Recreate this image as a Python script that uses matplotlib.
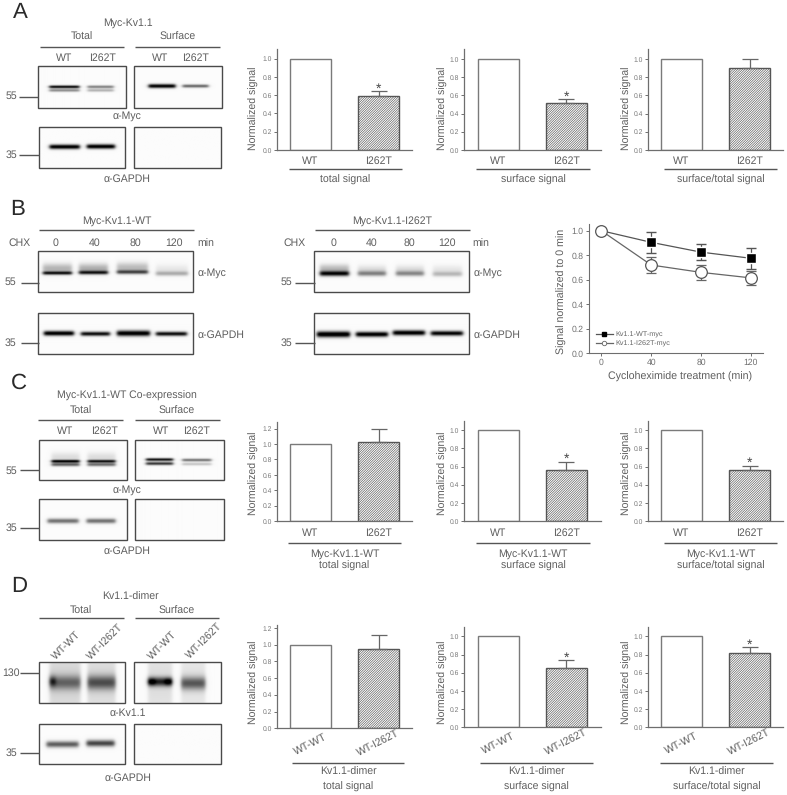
import numpy as np
import matplotlib
matplotlib.use("Agg")
import matplotlib.pyplot as plt
from matplotlib.lines import Line2D
from matplotlib.patches import Rectangle

plt.rcParams['font.family'] = ['Liberation Sans', 'DejaVu Sans']
plt.rcParams['hatch.linewidth'] = 0.45
plt.rcParams['text.hinting'] = 'none'

W, H = 787, 795
TXT = '#5e5e5e'
AXC = '#6e6e6e'

# ---- bar chart data
cats_wt = ['WT', 'I262T']
cats_dimer = ['WT-WT', 'WT-I262T']
a_total = [1.0, 0.59];  a_total_err = 0.055
a_surface = [1.0, 0.52];  a_surface_err = 0.04
a_ratio = [1.0, 0.90];  a_ratio_err = 0.105
c_total = [1.0, 1.03];  c_total_err = 0.165
c_surface = [1.0, 0.56];  c_surface_err = 0.09
c_ratio = [1.0, 0.56];  c_ratio_err = 0.05
d_total = [1.0, 0.95];  d_total_err = 0.165
d_surface = [1.0, 0.655];  d_surface_err = 0.08
d_ratio = [1.0, 0.82];  d_ratio_err = 0.06

# ---- cycloheximide time course
cx_time = [0, 40, 80, 120]
cx_wt = [1.0, 0.905, 0.825, 0.775]
cx_wt_err = [0.02, 0.085, 0.065, 0.085]
cx_mut = [1.0, 0.72, 0.66, 0.615]
cx_mut_err = [0.03, 0.065, 0.06, 0.06]

# ---- blots: (box), then bands (x0, x1, y, sigma_y, strength)
blots = [
    # A
    ((38, 125.5, 65.7, 108.3), [(49, 79, 87.3, 1.0, 1.0), (49, 79, 90.8, 1.0, 0.45),
                                (87, 113, 87.3, 1.0, 0.5), (87, 113, 90.8, 1.0, 0.3)]),
    ((133.7, 221.7, 65.7, 108.3), [(148, 175, 86.5, 1.4, 1.05), (182, 208, 86.5, 1.1, 0.6)]),
    ((38.7, 125, 127, 168.3), [(49, 79, 147.3, 1.6, 1.05), (86, 114, 147, 1.6, 1.05)]),
    ((134.3, 220.7, 127, 168.3), []),
    # B
    ((38.3, 193.3, 250.7, 291.7), [(43, 72, 272.5, 1.2, 0.85), (43, 72, 268, 3.5, 0.28),
                                   (79, 108, 272, 1.3, 0.8), (79, 108, 268, 3.5, 0.3),
                                   (117, 148, 271.5, 1.4, 0.65), (117, 148, 267, 3.5, 0.25),
                                   (156, 188, 273, 1.6, 0.28), (156, 188, 269, 3.5, 0.08)]),
    ((38.3, 193.3, 312.7, 354), [(44, 74, 333.5, 1.7, 1.05), (81, 110, 334, 1.5, 0.95),
                                 (117, 150, 333.5, 2.0, 1.05), (156, 187, 334, 1.5, 0.95)]),
    ((314.3, 469, 250.7, 291.7), [(320, 349, 273, 1.8, 0.95), (320, 349, 268, 3.0, 0.25),
                                  (358, 386, 273, 1.8, 0.45), (358, 386, 269, 3.0, 0.12),
                                  (396, 424, 273, 1.8, 0.42), (396, 424, 269, 3.0, 0.12),
                                  (433, 462, 273.5, 1.8, 0.25), (433, 462, 269, 3.0, 0.08)]),
    ((314.3, 469, 312.7, 354), [(317, 350, 334.5, 2.1, 1.1), (356, 388, 334.5, 1.8, 1.05),
                                (393, 425, 333, 1.8, 1.05), (431, 463, 333.5, 1.7, 1.0)]),
    # C
    ((38.7, 126.7, 439.7, 480.3), [(51, 79, 461.7, 1.0, 1.0), (51, 79, 465, 1.2, 0.6),
                                   (51, 79, 458, 3.5, 0.12),
                                   (87, 115, 461.7, 1.0, 0.9), (87, 115, 465, 1.2, 0.55),
                                   (87, 115, 458, 3.5, 0.12)]),
    ((135.3, 223.7, 439.7, 480.3), [(146, 173, 460, 1.0, 0.95), (146, 173, 464, 1.1, 0.8),
                                    (182, 211, 460.5, 1.0, 0.55), (182, 211, 464.5, 1.0, 0.22)]),
    ((38.7, 126.7, 499.3, 540), [(47, 78, 521, 1.7, 0.55), (86, 115, 521, 1.7, 0.55)]),
    ((135.3, 223.7, 499.3, 540), []),
    # D
    ((38.7, 124.7, 662, 703), [(49, 80, 682.3, 5.0, 0.45), (49, 80, 682, 30, 0.16), (49, 55, 681, 3.5, 0.35),
                               (87, 115, 682.3, 5.0, 0.55), (87, 115, 682, 30, 0.14)]),
    ((134.3, 220.7, 662, 703), [(148, 172, 681.5, 3.2, 0.75), (148, 155, 681.5, 2.5, 0.3),
                                (165, 172, 681.5, 2.5, 0.3), (148, 172, 682, 30, 0.12),
                                (181, 205, 683, 4.5, 0.55), (181, 205, 682, 30, 0.1)]),
    ((38.7, 124.7, 723.7, 764), [(46, 78, 744.5, 2.2, 0.62), (86, 114, 743.5, 2.3, 0.72)]),
    ((134.3, 220.7, 723.7, 764), []),
]

fig = plt.figure(figsize=(W / 100, H / 100), dpi=100)
ov = fig.add_axes([0, 0, 1, 1])
ov.axis('off')


def draw_blot(box, bands):
    l, r, t, b = box
    xs = np.arange(l, r, 0.5)
    ys = np.arange(t, b, 0.5)
    X, Y = np.meshgrid(xs, ys)
    dens = np.zeros_like(X)
    for x0, x1, yc, sy, amp in bands:
        fx = 0.5 * (np.tanh((X - x0) / 2.0) - np.tanh((X - x1) / 2.0))
        dens += amp * fx * np.exp(-(Y - yc) ** 2 / (2 * sy ** 2))
    img = np.clip(0.985 - dens, 0, 1)
    ov.imshow(img, cmap='gray', vmin=0, vmax=1, extent=(l, r, b, t), origin='upper',
              aspect='auto', interpolation='bilinear')
    ov.add_patch(Rectangle((l, t), r - l, b - t, fill=False, ec='#4a4a4a', lw=1.0))


for box, bands in blots:
    draw_blot(box, bands)


def T(x, y, s, fs=7.6, ha='center', rot=0, col=TXT):
    ov.text(x, y, s, fontsize=fs, ha=ha, va='center', rotation=rot, color=col,
            rotation_mode='anchor' if rot else 'default')


def L(x0, x1, y, col='#555555', lw=1.0):
    ov.plot([x0, x1], [y, y], color=col, lw=lw, solid_capstyle='butt')


def bar_chart(box, vals, err, cats, ticks, star, label_y, rot=0, bars_px=(310.5, 378.5)):
    l, r, t, b, y1px = box
    ax = fig.add_axes([l / W, 1 - b / H, (r - l) / W, (b - t) / H], facecolor='none')
    sp = bars_px[1] - bars_px[0]
    pos = [0, 1]
    ax.bar(pos[0], vals[0], 0.6, color='white', edgecolor='#7a7a7a', lw=1.0)
    ax.bar(pos[1], vals[1], 0.6, color='white', edgecolor='#555555', lw=1.0,
           hatch='/' * 14)
    ax.errorbar(pos[1], vals[1], yerr=[[0], [err]], color='#666666', lw=0.9, capsize=5.6,
                capthick=0.9, fmt='none', zorder=1)
    ax.set_xlim((l - bars_px[0]) / sp, (r - bars_px[0]) / sp)
    ax.set_ylim(0, (b - t) / (b - y1px))
    ax.set_yticks(ticks)
    ax.set_yticklabels([f'{v:.1f}' for v in ticks], fontsize=4.9, color='#777777')
    ax.set_xticks(pos)
    if rot:
        ax.set_xticklabels(cats, fontsize=7.6, color=TXT, rotation=rot, ha='center', va='bottom')
        ax.tick_params(axis='x', length=0, pad=21)
    else:
        ax.set_xticklabels(cats, fontsize=7.6, color=TXT)
        ax.tick_params(axis='x', length=0, pad=4.5)
    ax.tick_params(axis='y', length=2, width=0.7, color=AXC, pad=1.5)
    ax.spines[['top', 'right']].set_visible(False)
    ax.spines[['left', 'bottom']].set_color(AXC)
    ax.spines[['left', 'bottom']].set_linewidth(0.9)
    ax.set_ylabel('Normalized signal', fontsize=7.6, color=TXT,
                  labelpad=2.5 if l == 277 else 1.0, y=(b - label_y) / (b - t))
    if star:
        ax.annotate('*', (pos[1], vals[1] + err), xytext=(0, -3), textcoords='offset points',
                    ha='center', va='bottom', fontsize=10, color='#444444')
    return ax


t6 = [0, .2, .4, .6, .8, 1.0]
t7 = [0, .2, .4, .6, .8, 1.0, 1.2]
# Panel A
bar_chart((277, 412, 49.3, 150, 58.7), a_total, a_total_err, cats_wt, t6, True, 108.5)
bar_chart((464, 601, 49.3, 150, 59), a_surface, a_surface_err, cats_wt, t6, True, 108.5, bars_px=(498.5, 566.5))
bar_chart((648, 783, 49.3, 150, 59), a_ratio, a_ratio_err, cats_wt, t6, False, 108.5, bars_px=(681.5, 749.5))
# Panel C
bar_chart((277, 412, 421.7, 521.3, 444), c_total, c_total_err, cats_wt, t7, False, 473)
bar_chart((464, 601, 421, 521.3, 430), c_surface, c_surface_err, cats_wt, t6, True, 473, bars_px=(498.5, 566.5))
bar_chart((648, 783, 421, 521.3, 430), c_ratio, c_ratio_err, cats_wt, t6, True, 473, bars_px=(681.5, 749.5))
# Panel D
bar_chart((277, 412, 625, 728.3, 644.7), d_total, d_total_err, cats_dimer, t7, False, 682, rot=27)
bar_chart((464, 601, 627.3, 727.3, 636.3), d_surface, d_surface_err, cats_dimer, t6, True, 682, rot=27, bars_px=(498.5, 566.5))
bar_chart((648, 783, 627.3, 727.3, 636.3), d_ratio, d_ratio_err, cats_dimer, t6, True, 682, rot=27, bars_px=(681.5, 749.5))

# ---- time course
l, r, t, b = 589, 763, 224, 353.3
ax = fig.add_axes([l / W, 1 - b / H, (r - l) / W, (b - t) / H], facecolor='none')
ax.errorbar(cx_time, cx_wt, yerr=cx_wt_err, color='#555555', lw=0.9, capsize=3.6, capthick=0.9,
            marker='s', ms=7.6, mfc='black', mec='white', mew=1.0)
ax.errorbar(cx_time, cx_mut, yerr=cx_mut_err, color='#666666', lw=0.9, capsize=3.6, capthick=0.9,
            marker='o', ms=8.4, mfc='white', mec='#555555', mew=0.9)
ax.set_xlim(-9.9, 129.6)
ax.set_ylim(0, (b - t) / (b - 230.7))
ax.set_xticks(cx_time)
ax.set_yticks(t6)
ax.set_yticklabels([f'{v:.1f}' for v in t6])
ax.tick_params(labelsize=6.2, labelcolor='#707070', length=2.5, width=0.7, color=AXC, pad=1.5)
ax.spines[['top', 'right']].set_visible(False)
ax.spines[['left', 'bottom']].set_color(AXC)
ax.set_xlabel('Cycloheximide treatment (min)', fontsize=7.7, color=TXT, labelpad=3.5, x=0.523)
ax.set_ylabel('Signal normalized to 0 min', fontsize=7.7, color=TXT, labelpad=3, y=0.476)
handles = [Line2D([], [], color='#555555', lw=0.9, marker='s', ms=2.6, mfc='black', mec='black'),
           Line2D([], [], color='#666666', lw=0.9, marker='o', ms=3.2, mfc='white', mec='#666666', mew=0.6)]
ax.legend(handles, ['Kv1.1-WT-myc', 'Kv1.1-I262T-myc'], loc='lower left', bbox_to_anchor=(0.02, 0.02),
          frameon=False, fontsize=5.2, handlelength=2.3, handletextpad=0.35, labelspacing=0.3,
          borderpad=0, labelcolor='#666666')

# ---- texts and rule lines
for x, y, s in [(20, 12, 'A'), (18, 209, 'B'), (19, 383, 'C'), (19, 586, 'D')]:
    T(x, y, s, 16, col='#2a2a2a')

# A
T(127.7, 22.7, 'Myc-Kv1.1'); T(82, 37, 'Total'); T(178, 37, 'Surface')
L(40, 124, 46.5); L(135, 220, 46.5)
for x, s in [(64, 'WT'), (102, 'I262T'), (160, 'WT'), (195, 'I262T')]:
    T(x, 58, s, 7.6)
T(11, 96, '55', 7.6); L(19.3, 38, 96.7); T(11, 155, '35', 7.6); L(19.3, 38.7, 155)
T(127, 116, 'α-Myc'); T(127, 179, 'α-GAPDH')
for x0, x1, s in [(289, 402, 'total signal'), (476, 590, 'surface signal'), (664, 777, 'surface/total signal')]:
    L(x0, x1, 169); T((x0 + x1) / 2, 180, s)

# B
for x0, x1, title, chx, labs, mn, a, n, lx in [
        (39, 194, 'Myc-Kv1.1-WT', 20, (56, 94.5, 135, 174), 205.7, 198, 10.7, 20.7),
        (314.5, 470, 'Myc-Kv1.1-I262T', 294.3, (334, 371.7, 409.3, 446.7), 481, 474, 286, 295)]:
    T((x0 + x1) / 2, 220.7, title); L(x0, x1, 230.3)
    T(chx, 242.7, 'CHX')
    for x, s in zip(labs, cx_time):
        T(x, 242.7, str(s))
    T(mn, 242.7, 'min')
    T(a, 272.7, 'α-Myc', ha='left'); T(a, 335, 'α-GAPDH', ha='left')
    T(n, 282, '55', 7.6); L(lx, x0, 282.7); T(n, 343, '35', 7.6); L(lx, x0, 342.7)

# C
T(127, 396, 'Myc-Kv1.1-WT Co-expression'); T(80.7, 410.7, 'Total'); T(177, 410.7, 'Surface')
L(38, 122.7, 420.3); L(135.3, 220, 420.3)
for x, s in [(64.7, 'WT'), (104, 'I262T'), (161, 'WT'), (196.7, 'I262T')]:
    T(x, 431, s, 7.6)
T(11, 470.7, '55', 7.6); L(20, 38.7, 470.3); T(11, 528.3, '35', 7.6); L(20, 38.7, 528)
T(127, 490, 'α-Myc'); T(127, 551.3, 'α-GAPDH')
for x0, x1, s in [(288, 401, 'total signal'), (476, 590, 'surface signal'), (664, 777, 'surface/total signal')]:
    L(x0, x1, 543); T((x0 + x1) / 2, 553.5, 'Myc-Kv1.1-WT'); T((x0 + x1) / 2, 566, s)

# D
T(130, 596.7, 'Kv1.1-dimer'); T(81, 610.7, 'Total'); T(176.7, 610.7, 'Surface')
L(39, 123.7, 618.3); L(134.7, 219, 618.3)
for x, y, s in [(66.7, 645, 'WT-WT'), (105, 641.7, 'WT-I262T'), (163, 645, 'WT-WT'), (204, 641, 'WT-I262T')]:
    ov.text(x, y, s, fontsize=7.6, color=TXT, rotation=45, ha='center', va='center')
T(11, 673, '130', 7.6); L(20, 38.7, 673); T(11, 752.7, '35', 7.6); L(20, 38.7, 752.7)
T(128, 712.7, 'α-Kv1.1'); T(128, 778, 'α-GAPDH')
for x0, x1, s in [(291.7, 404.3, 'total signal'), (480, 593.3, 'surface signal'), (660, 773, 'surface/total signal')]:
    L(x0, x1, 763.3); T((x0 + x1) / 2, 772.3, 'Kv1.1-dimer'); T((x0 + x1) / 2, 786.5, s)

ov.set_xlim(0, W)
ov.set_ylim(H, 0)
fig.savefig('out.png', dpi=100)
